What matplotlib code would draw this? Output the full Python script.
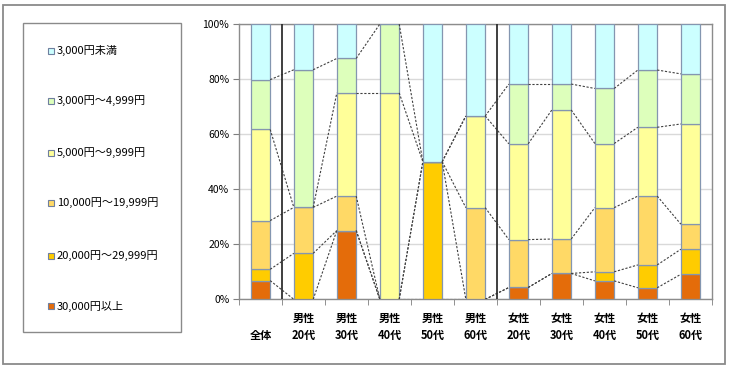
import numpy as np
import matplotlib
matplotlib.use("Agg")
import matplotlib.pyplot as plt
from matplotlib.patches import Rectangle

plt.rcParams["font.family"] = ["Noto Sans CJK JP", "DejaVu Sans"]

# categories along x
CATEGORIES = ["全体", "男性\n20代", "男性\n30代", "男性\n40代", "男性\n50代", "男性\n60代",
              "女性\n20代", "女性\n30代", "女性\n40代", "女性\n50代", "女性\n60代"]

# stacked series, bottom -> top (percent)
SERIES = ["30,000円以上", "20,000円～29,999円", "10,000円～19,999円",
          "5,000円～9,999円", "3,000円～4,999円", "3,000円未満"]
over_30000 = [6.8, 0.0, 25.0, 0.0, 0.0, 0.0, 4.3, 9.4, 6.7, 4.2, 9.1]
r20000_29999 = [4.1, 16.7, 0.0, 0.0, 50.0, 0.0, 0.0, 0.0, 3.3, 8.3, 9.1]
r10000_19999 = [17.7, 16.7, 12.5, 0.0, 0.0, 33.3, 17.4, 12.5, 23.3, 25.0, 9.1]
r5000_9999 = [33.1, 0.0, 37.5, 75.0, 0.0, 33.3, 34.8, 46.9, 23.3, 25.0, 36.4]
r3000_4999 = [18.1, 50.0, 12.5, 25.0, 0.0, 0.0, 21.7, 9.4, 20.0, 20.8, 18.2]
under_3000 = [20.2, 16.7, 12.5, 0.0, 50.0, 33.3, 21.7, 21.8, 23.3, 16.7, 18.2]
VALUES = [over_30000, r20000_29999, r10000_19999, r5000_9999, r3000_4999, under_3000]

COLORS = ["#E46C0A", "#FFCC00", "#FFD966", "#FFFF99", "#DDFFBB", "#CCFFFF"]
EDGE = "#8496B0"
SEPARATORS = [0.5, 5.5]  # between 全体 / 男性 / 女性

fig = plt.figure(figsize=(7.3, 3.7), dpi=100)

# outer frame
fig.patches.append(Rectangle((0.004, 0.016), 0.989, 0.970, transform=fig.transFigure,
                             fill=False, edgecolor="#8a8a8a", linewidth=1.3))
# legend frame
fig.patches.append(Rectangle((0.031, 0.102), 0.2165, 0.835, transform=fig.transFigure,
                             fill=False, edgecolor="#8a8a8a", linewidth=1.0))

ax = fig.add_axes([0.3274, 0.191, 0.648, 0.744])
x = np.arange(len(CATEGORIES))
width = 0.45
bottom = np.zeros(len(CATEGORIES))
tops = []
for vals, color in zip(VALUES, COLORS):
    vals = np.array(vals)
    ax.bar(x, vals, width, bottom=bottom, color=color, edgecolor=EDGE, linewidth=0.9, zorder=3)
    bottom = bottom + vals
    tops.append(bottom.copy())

# series lines between adjacent bars
for top in tops[:-1]:
    for i in range(len(CATEGORIES) - 1):
        ax.plot([x[i] + width / 2, x[i + 1] - width / 2], [top[i], top[i + 1]],
                color="#404040", linewidth=0.8, dashes=(2, 1.5), zorder=4)

for s in SEPARATORS:
    ax.axvline(s, color="#303030", linewidth=1.3, zorder=4)

ax.set_xlim(-0.5, len(CATEGORIES) - 0.5)
ax.set_ylim(0, 100)
ax.set_yticks(np.arange(0, 101, 20))
ax.set_yticklabels([f"{v}%" for v in range(0, 101, 20)], fontsize=7.5)
ax.yaxis.grid(True, color="#d9d9d9", linewidth=1.0, zorder=0)
ax.set_axisbelow(True)

labels = [c if "\n" in c else "\n" + c for c in CATEGORIES]
ax.set_xticks(x)
ax.set_xticklabels(labels, fontsize=8, fontweight="bold", linespacing=1.45)
ax.set_xticks(np.arange(-0.5, len(CATEGORIES)), minor=True)
ax.tick_params(axis="x", which="major", length=0, pad=9)
ax.tick_params(axis="x", which="minor", length=4, color="#7f7f7f", direction="out")
ax.tick_params(axis="y", length=4, color="#7f7f7f", pad=3)

for side in ["left", "bottom", "top", "right"]:
    ax.spines[side].set_color("#8c8c8c")
    ax.spines[side].set_linewidth(1.0)

# legend, top entry = top series
legend_y = [0.863, 0.728, 0.587, 0.452, 0.308, 0.173]
for yy, name, color in zip(legend_y, SERIES[::-1], COLORS[::-1]):
    fig.patches.append(Rectangle((0.066, yy - 0.009), 0.0075, 0.0165, transform=fig.transFigure,
                                 facecolor=color, edgecolor="#6f7f9f", linewidth=0.8))
    fig.text(0.078, yy, name, fontsize=8, va="center", ha="left")

fig.savefig("out.png", dpi=100)
